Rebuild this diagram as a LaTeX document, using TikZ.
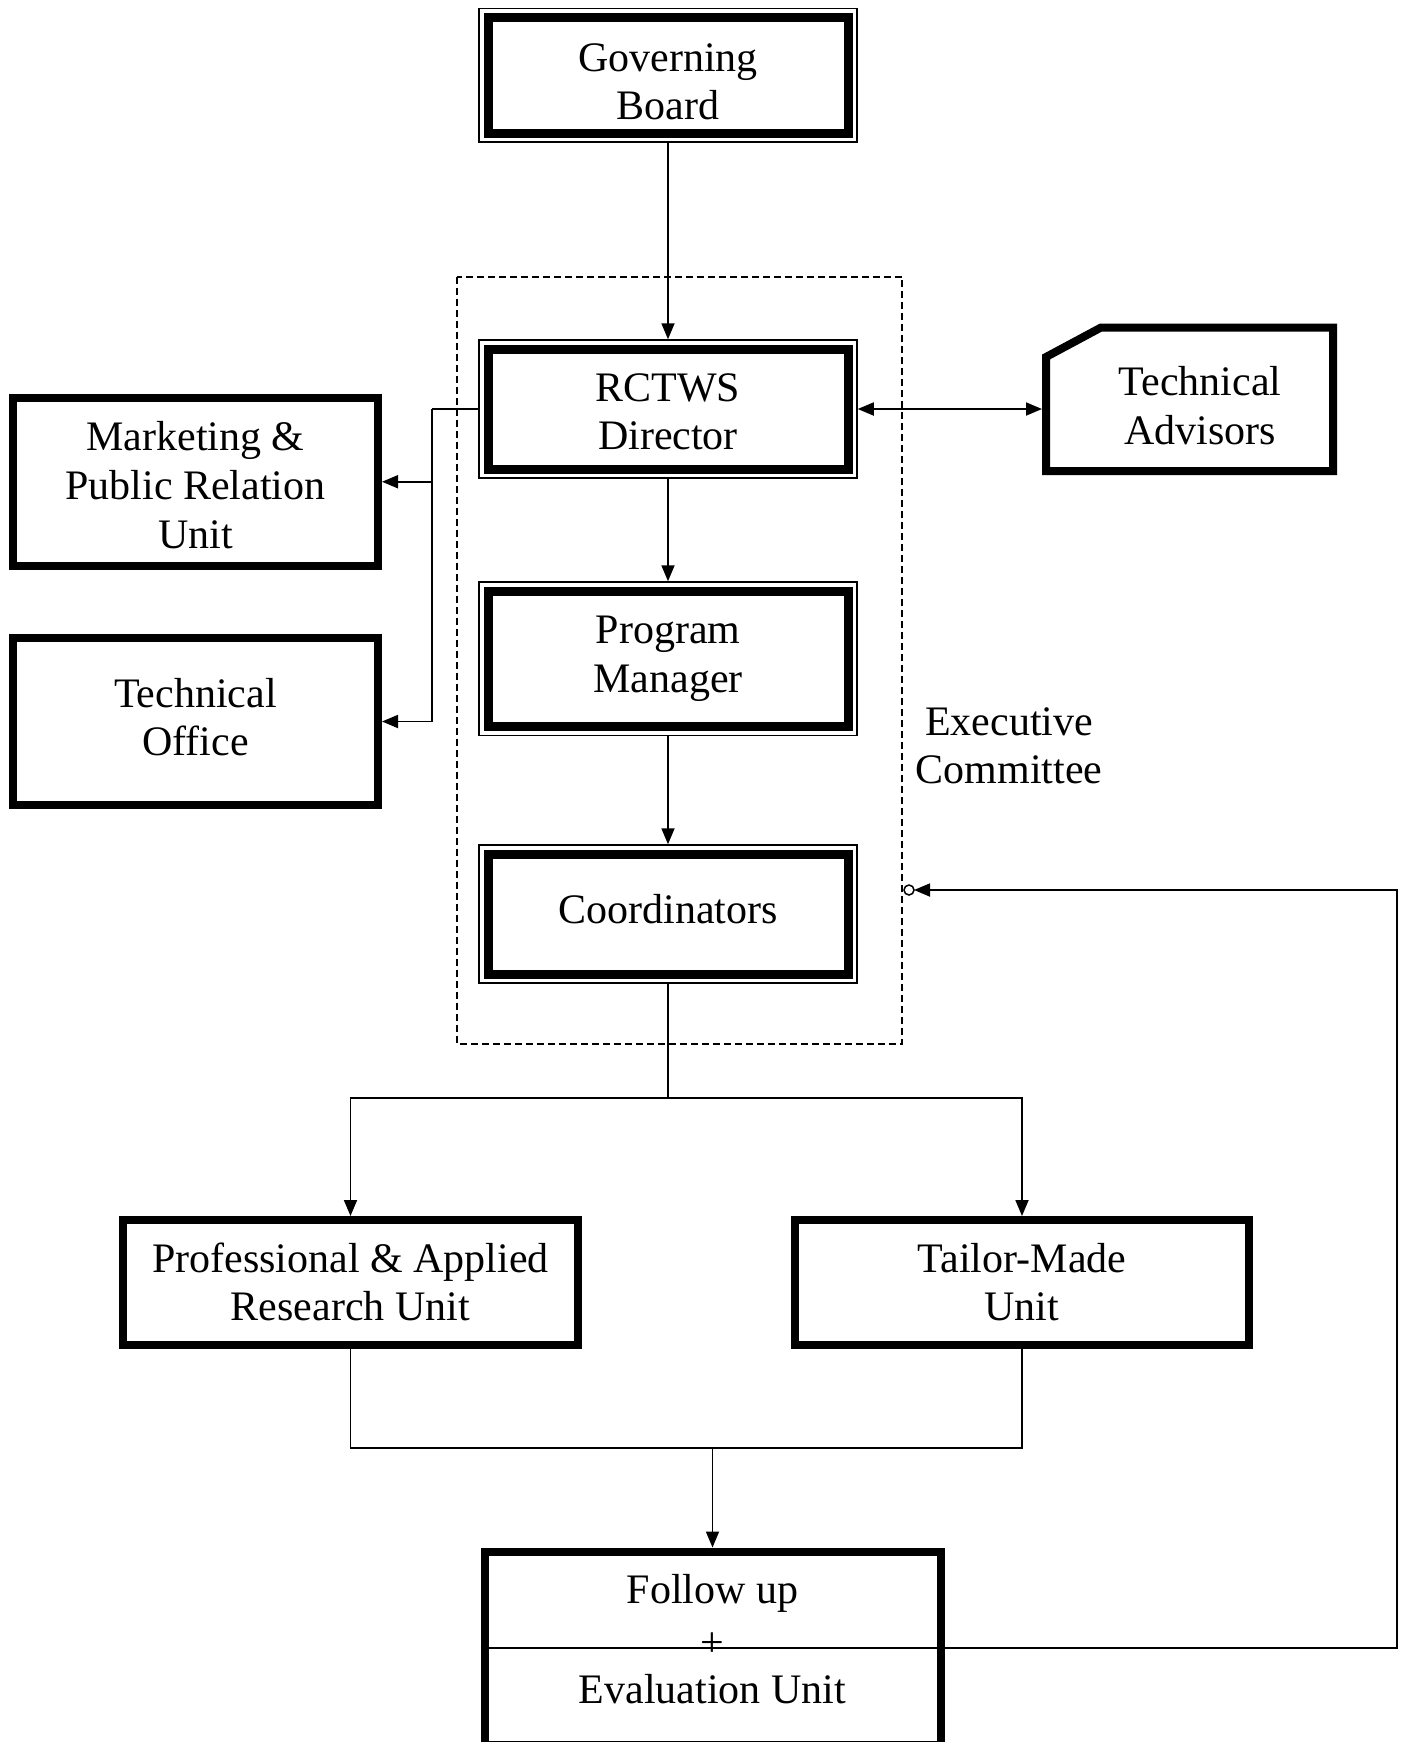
\documentclass[tikz,border=0pt]{standalone}
\usepackage{fontspec}
\setmainfont{Liberation Serif}
\usetikzlibrary{arrows.meta}
\begin{document}
\begin{tikzpicture}[x=0.5pt,y=-0.5pt,
  dbox/.style={draw, line width=4.5pt, fill=white, inner sep=0pt, outer sep=4.875pt,
     minimum width=180pt, preaction={draw, line width=9.75pt}, preaction={draw, white, line width=8.25pt}},
  sbox/.style={draw, line width=4pt, fill=white, inner sep=0pt, outer sep=2pt},
  txt/.style={font=\fontsize{21}{24}\selectfont, align=center, inner sep=0pt},
  conn/.style={line width=0.9pt},
  arr/.style={conn, -{Triangle[length=8pt,width=6.5pt]}},
  dual/.style={conn, {Triangle[length=8pt,width=6.5pt]}-{Triangle[length=8pt,width=6.5pt]}},
  dashbox/.style={line width=0.8pt, dash pattern=on 3.5pt off 2pt},
]
\useasboundingbox (0,0) rectangle (1402,1742);

% executive committee frame
\draw[dashbox] (457,276.7) rectangle (902,1044);

% boxes
\node[dbox, minimum height=57.75pt] (gb) at (668,75.25) {};
\node[dbox, minimum height=60pt] (rd) at (668,409) {};
\node[dbox, minimum height=67.75pt] (pm) at (668,658.75) {};
\node[dbox, minimum height=60pt] (co) at (668,914) {};
\node[sbox, minimum width=182.5pt, minimum height=83.75pt] (mk) at (195.5,481.75) {};
\node[sbox, minimum width=182.5pt, minimum height=83.5pt] (to) at (195.5,721.5) {};
\node[sbox, minimum width=227.5pt, minimum height=62.5pt] (pa) at (350.5,1282.5) {};
\node[sbox, minimum width=227pt, minimum height=62.5pt] (tm) at (1022,1282.5) {};
\node[sbox, minimum width=228pt, minimum height=96.75pt] (fu) at (712.5,1648.25) {};
\draw[line width=4pt, fill=white, line join=miter] (1046,357) -- (1101,327.5) -- (1333,327.5) -- (1333,471) -- (1046,471) -- cycle;
\coordinate (taL) at (1042,409);

% texts
\node[txt] (gbt) at (668,85.5) {\strut Governing\\\strut Board};
\node[txt] (rdt) at (668,416.25) {\strut RCTWS\\\strut Director};
\node[txt, font=\fontsize{21}{24.5}\selectfont] (pmt) at (668,657.9) {\strut Program\\\strut Manager};
\node[txt] (cot) at (668,913.7) {\strut Coordinators};
\node[txt, font=\fontsize{21}{24.5}\selectfont] (mkt) at (195.5,489.2) {\strut Marketing \&\\\strut Public Relation\\\strut Unit};
\node[txt] (tot) at (195.5,721.4) {\strut Technical\\\strut Office};
\node[txt, font=\fontsize{21}{24.5}\selectfont] (tat) at (1200,410.5) {\strut Technical\\\strut Advisors};
\node[txt] (ect) at (1009,750) {\strut Executive\\\strut Committee};
\node[txt] (pat) at (350.5,1287.1) {\strut Professional \& Applied\\\strut Research Unit};
\node[txt] (tmt) at (1022,1287.1) {\strut Tailor-Made\\\strut Unit};
\node[txt, font=\fontsize{21}{25}\selectfont] (fut) at (712.5,1643) {\strut Follow up\\\strut \raisebox{-1.5pt}{+}\\\strut Evaluation Unit};

% connectors
\draw[arr] (gb.south) -- (rd.north);
\draw[arr] (rd.south) -- (pm.north);
\draw[arr] (pm.south) -- (co.north);
\coordinate (br) at (668,1098);
\draw[conn] (co.south) -- (br);
\draw[arr] (br) -| (pa.north);
\draw[arr] (br) -| (tm.north);
\coordinate (mg) at (712.5,1448);
\draw[conn] (pa.south) |- (mg);
\draw[conn] (tm.south) |- (mg);
\draw[arr] (mg) -- (fu.north);
\coordinate (jt) at (432,409);
\draw[conn] (rd.west) -- (jt);
\draw[arr] (jt) |- (mk.east);
\draw[arr] (jt) |- (to.east);
\draw[dual] (rd.east) -- (taL);
\coordinate (fr) at (1397,1648.25);
\coordinate (ecp) at (914,890);
\draw[arr] (fu.west) -- (fr) |- (ecp);
\draw[line width=0.75pt, fill=white] (909,890) circle[radius=2.5pt];
\end{tikzpicture}
\end{document}
